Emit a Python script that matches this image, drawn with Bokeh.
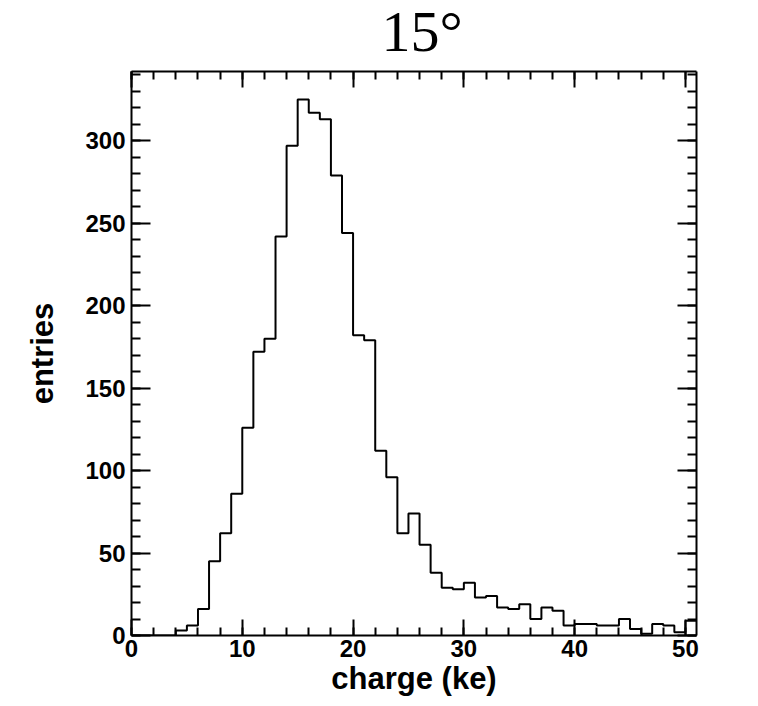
from bokeh.plotting import figure
from bokeh.models import Range1d, LinearAxis, SingleIntervalTicker, CustomLabelingPolicy
from bokeh.embed import file_html
from bokeh.resources import INLINE

# histogram: 51 bins of width 1 ke from 0 to 51
bin_edges = list(range(0, 52))
counts = [0, 0, 0, 0, 3, 6, 16, 45, 62, 86, 126,
          172, 180, 242, 297, 325, 317, 313, 279, 244,
          182, 179, 112, 96, 62, 74, 55, 38,
          29, 28, 32, 23, 24, 17, 16, 19, 10, 17, 15, 6,
          7, 7, 6, 6, 10, 4, 1, 7, 6, 2, 9]
title_text = "15°"
x_label = "charge (ke)"
y_label = "entries"

p = figure(frame_width=565, frame_height=564,
           x_range=Range1d(0, 51), y_range=Range1d(0, 342),
           output_backend="svg", toolbar_location=None,
           min_border_left=131, min_border_right=46,
           min_border_top=63, min_border_bottom=50,
           x_axis_type=None, y_axis_type=None)

p.title.text = title_text
p.title.align = "left"
p.title.offset = 250
p.title.text_font = "Liberation Serif"
p.title.text_font_style = "normal"
p.title.text_font_size = "58px"
p.title.text_color = "black"
p.title.standoff = -7

p.xgrid.visible = False
p.ygrid.visible = False
p.outline_line_color = None
p.background_fill_color = "white"
p.border_fill_color = "white"

def xt():
    return SingleIntervalTicker(interval=10, num_minor_ticks=5)

def yt():
    return SingleIntervalTicker(interval=50, num_minor_ticks=5)

def style(ax, major, minor, labels=True):
    ax.axis_line_width = 2
    ax.axis_line_color = "black"
    ax.major_tick_line_width = 2
    ax.minor_tick_line_width = 2
    ax.major_tick_in = major
    ax.major_tick_out = 0
    ax.minor_tick_in = minor
    ax.minor_tick_out = 0
    if labels:
        ax.major_label_text_font = "Liberation Sans"
        ax.major_label_text_font_style = "bold"
        ax.major_label_text_font_size = "24px"
        ax.major_label_text_color = "black"
        ax.major_label_standoff = 6
        ax.axis_label_text_font = "Liberation Sans"
        ax.axis_label_text_font_style = "bold"
        ax.axis_label_text_font_size = "31px"
        ax.axis_label_text_color = "black"
    else:
        ax.major_label_policy = CustomLabelingPolicy(
            code="for (const i of Array.from(indices)) { indices.unset(i) }; return indices")
        ax.major_label_standoff = 0

xb = LinearAxis(ticker=xt(), axis_label=x_label)
style(xb, 16, 8)
xb.major_label_standoff = 4
xb.axis_label_standoff = 1
p.add_layout(xb, "below")

yl = LinearAxis(ticker=yt(), axis_label=y_label)
style(yl, 19, 9)
yl.axis_label_standoff = 22
p.add_layout(yl, "left")

xa = LinearAxis(ticker=xt())
style(xa, 16, 8, labels=False)
p.add_layout(xa, "above")

yr = LinearAxis(ticker=yt())
style(yr, 19, 9, labels=False)
p.add_layout(yr, "right")

ys = counts + [counts[-1]]
p.step(x=bin_edges, y=ys, mode="after", line_color="black", line_width=2)

open("out.html", "w").write(file_html(p, INLINE))
